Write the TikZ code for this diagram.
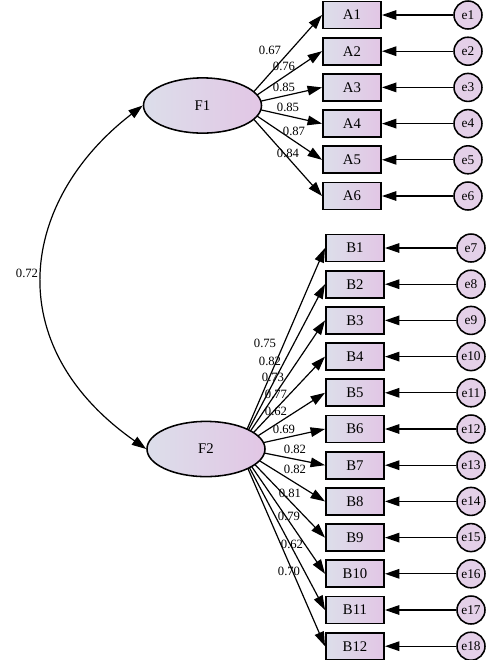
\documentclass[tikz,border=0pt]{standalone}
\usepackage{fontspec}
\setmainfont{Liberation Serif}
\usetikzlibrary{arrows.meta, positioning, shapes.geometric}
\definecolor{fillL}{HTML}{DCDEEA}
\definecolor{fillR}{HTML}{E2C6E5}
\definecolor{errfill}{HTML}{E4D0E8}

\begin{document}
\begin{tikzpicture}[x=0.025cm, y=-0.025cm,
    latent/.style={ellipse, draw, line width=1.1pt, left color=fillL, right color=fillR,
      minimum width=2.95cm, minimum height=1.38cm, font=\fontsize{10.5}{12}\selectfont},
    item/.style={rectangle, draw, line width=1.4pt, left color=fillL, right color=fillR,
      minimum width=1.45cm, minimum height=0.675cm, inner sep=0pt, font=\fontsize{10.5}{12}\selectfont},
    err/.style={circle, draw, line width=1.1pt, fill=errfill,
      minimum size=0.7cm, inner sep=0pt, font=\fontsize{9.5}{11}\selectfont},
    lbl/.style={inner sep=0pt, font=\fontsize{9}{10}\selectfont},
    arrow/.style={line width=0.85pt, -{Triangle[length=3.6mm, width=2.4mm]}},
    corr/.style={line width=0.85pt, {Triangle[length=3.6mm, width=2.4mm]}-{Triangle[length=3.6mm, width=2.4mm]}}
]
\useasboundingbox (0,0) rectangle (501,660);

% observed items and error terms
\foreach \i in {1,...,6} {
  \node[item] (A\i) at (352,{15+36.2*(\i-1)}) {A\i};
  \node[err]  (e\i) at (468,{15+36.2*(\i-1)}) {e\i};
}
\foreach \i [evaluate=\i as \k using int(\i+6)] in {1,...,12} {
  \node[item] (B\i) at (355,{248+36.2*(\i-1)}) {B\i};
  \node[err]  (e\k) at (471,{248+36.2*(\i-1)}) {e\k};
}

% loadings start inside the factors, the ellipses cover the ends
\coordinate (F1hub) at (241.5,105.5);
\coordinate (F2hub) at (239,448);
\foreach \i in {1,...,6} {
  \draw[arrow] (F1hub) -- (A\i.west);
  \draw[arrow] (e\i) -- (A\i);
}
\foreach \i [evaluate=\i as \k using int(\i+6)] in {1,...,12} {
  \draw[arrow] (F2hub) -- (B\i.west);
  \draw[arrow] (e\k) -- (B\i);
}

% latent factors
\node[latent] (F1) at (202.5,105.5) {F1};
\node[latent] (F2) at (206,449)     {F2};
\draw[corr] (F1.west) .. controls (20,200) and (-2,345) .. (F2.west);

% loadings
\foreach \v/\x/\y [count=\n] in {0.67/270/50, 0.76/284/66, 0.85/284/87,
    0.85/288/107, 0.87/294/131, 0.84/288/153}
  \node[lbl] (lA\n) at (\x,\y) {\v};
\foreach \v/\x/\y [count=\n] in {0.75/265/343, 0.82/270/361, 0.73/273/377,
    0.77/276/394, 0.62/276/411, 0.69/284/429, 0.82/295/449, 0.82/295/469,
    0.81/290/493, 0.79/289/516, 0.62/292/544, 0.70/289/571}
  \node[lbl] (lB\n) at (\x,\y) {\v};
\node[lbl] (r12) at (27,273) {0.72};
\end{tikzpicture}
\end{document}
